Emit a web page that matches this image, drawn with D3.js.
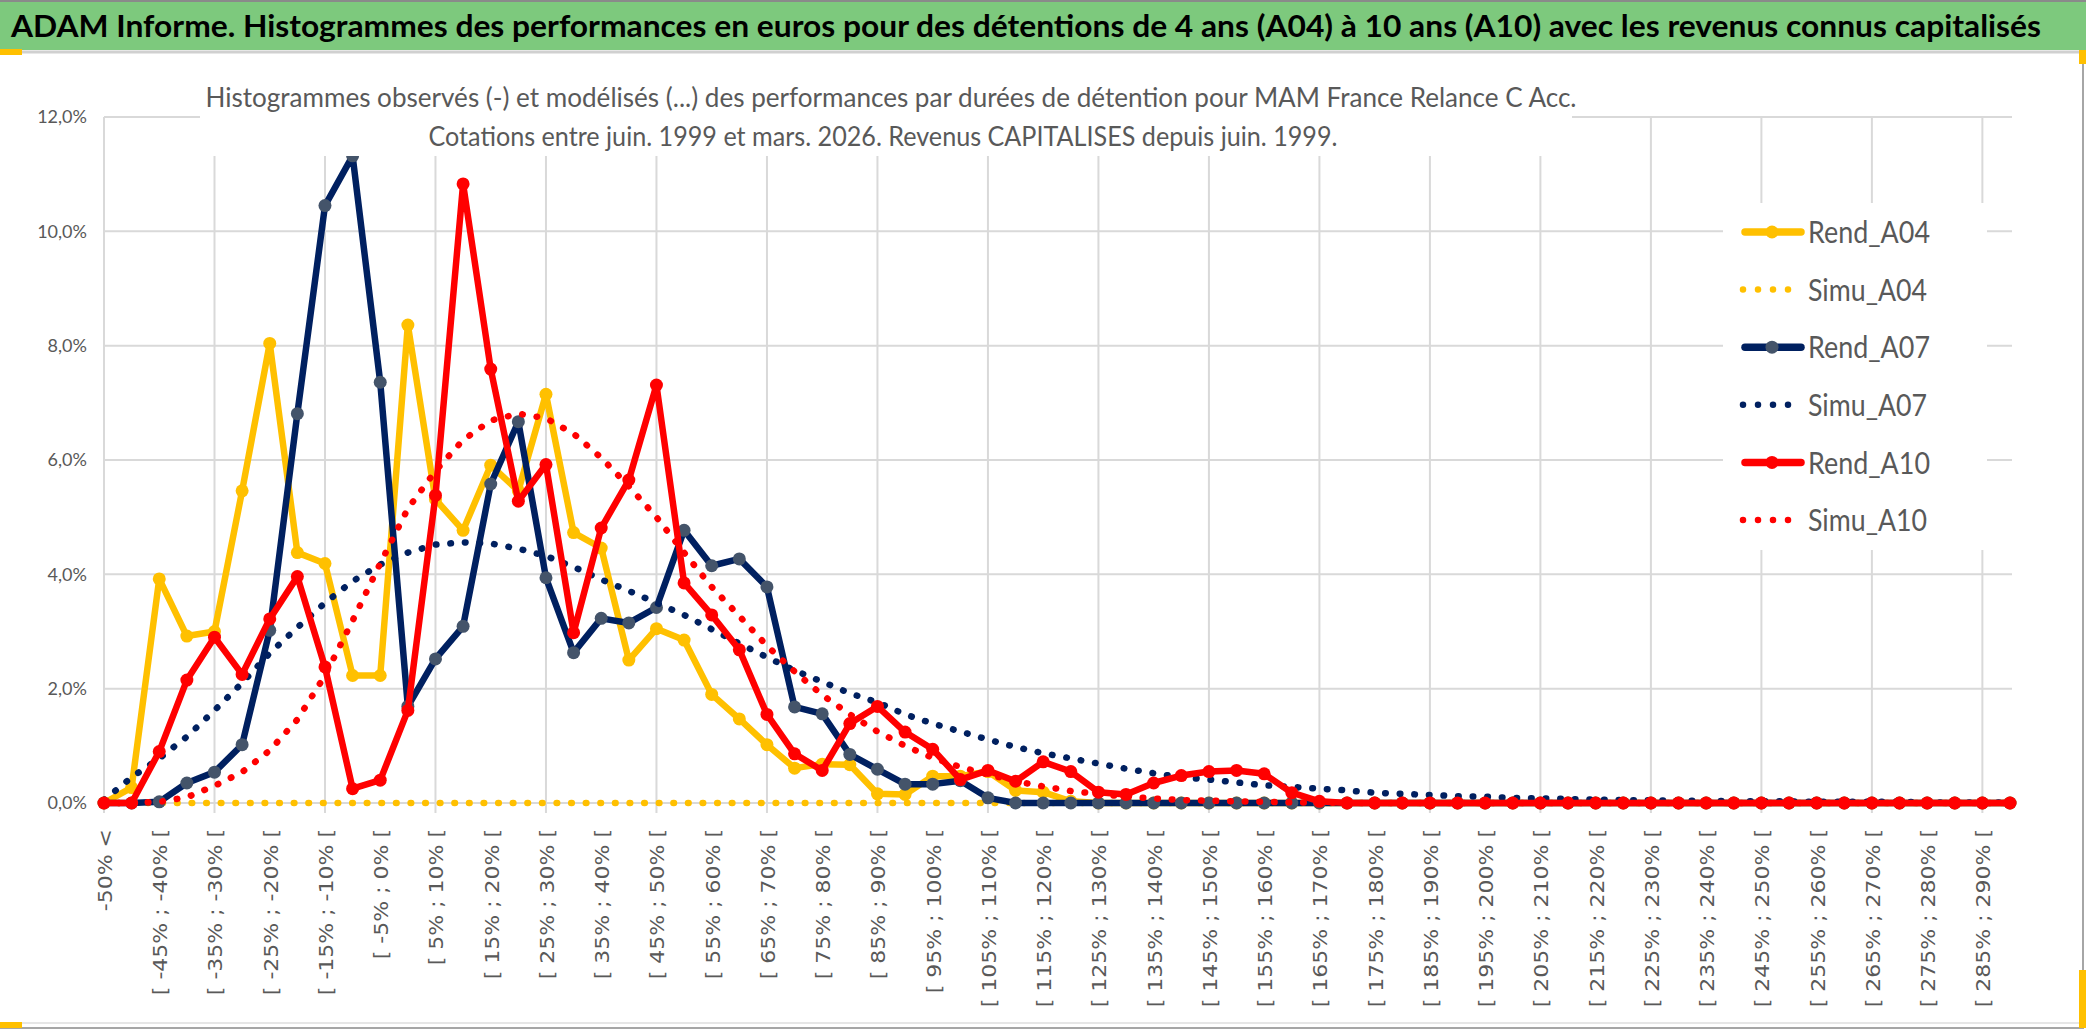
<!DOCTYPE html>
<html>
<head>
<meta charset="utf-8">
<script src="https://cdn.jsdelivr.net/npm/d3@7"></script>
<style>
  html, body { margin: 0; padding: 0; background: #fff; }
  svg { display: block; }
</style>
</head>
<body>
<svg width="2086" height="1031"></svg>
<script>
// categories of the histogram (5% classes)
const categories = [
  "-50% <", "[ -50% ; -45% [", "[ -45% ; -40% [", "[ -40% ; -35% [", "[ -35% ; -30% [",
  "[ -30% ; -25% [", "[ -25% ; -20% [", "[ -20% ; -15% [", "[ -15% ; -10% [", "[ -10% ; -5% [",
  "[ -5% ; 0% [", "[ 0% ; 5% [", "[ 5% ; 10% [", "[ 10% ; 15% [", "[ 15% ; 20% [",
  "[ 20% ; 25% [", "[ 25% ; 30% [", "[ 30% ; 35% [", "[ 35% ; 40% [", "[ 40% ; 45% [",
  "[ 45% ; 50% [", "[ 50% ; 55% [", "[ 55% ; 60% [", "[ 60% ; 65% [", "[ 65% ; 70% [",
  "[ 70% ; 75% [", "[ 75% ; 80% [", "[ 80% ; 85% [", "[ 85% ; 90% [", "[ 90% ; 95% [",
  "[ 95% ; 100% [", "[ 100% ; 105% [", "[ 105% ; 110% [", "[ 110% ; 115% [", "[ 115% ; 120% [",
  "[ 120% ; 125% [", "[ 125% ; 130% [", "[ 130% ; 135% [", "[ 135% ; 140% [", "[ 140% ; 145% [",
  "[ 145% ; 150% [", "[ 150% ; 155% [", "[ 155% ; 160% [", "[ 160% ; 165% [", "[ 165% ; 170% [",
  "[ 170% ; 175% [", "[ 175% ; 180% [", "[ 180% ; 185% [", "[ 185% ; 190% [", "[ 190% ; 195% [",
  "[ 195% ; 200% [", "[ 200% ; 205% [", "[ 205% ; 210% [", "[ 210% ; 215% [", "[ 215% ; 220% [",
  "[ 220% ; 225% [", "[ 225% ; 230% [", "[ 230% ; 235% [", "[ 235% ; 240% [", "[ 240% ; 245% [",
  "[ 245% ; 250% [", "[ 250% ; 255% [", "[ 255% ; 260% [", "[ 260% ; 265% [", "[ 265% ; 270% [",
  "[ 270% ; 275% [", "[ 275% ; 280% [", "[ 280% ; 285% [", "[ 285% ; 290% [", "[ 290% ; 295% ["
];

// values in %
const rend_A04 = [
  0, 0.27, 3.92, 2.92, 3.0, 5.46, 8.04, 4.38, 4.19, 2.23,
  2.23, 8.36, 5.31, 4.77, 5.91, 5.46, 7.15, 4.73, 4.46, 2.5,
  3.05, 2.85, 1.9, 1.47, 1.02, 0.61, 0.68, 0.67, 0.16, 0.15,
  0.47, 0.47, 0.55, 0.22, 0.19, 0.03, 0, 0, 0, 0,
  0, 0, 0, 0, 0, 0, 0, 0, 0, 0,
  0, 0, 0, 0, 0, 0, 0, 0, 0, 0,
  0, 0, 0, 0, 0, 0, 0, 0, 0, 0
];
const simu_A04 = [
  0, 0, 0, 0, 0, 0, 0, 0, 0, 0,
  0, 0, 0, 0, 0, 0, 0, 0, 0, 0,
  0, 0, 0, 0, 0, 0, 0, 0, 0, 0,
  0, 0, 0, 0, 0, 0, 0, 0, 0, 0,
  0, 0, 0, 0, 0, 0, 0, 0, 0, 0,
  0, 0, 0, 0, 0, 0, 0, 0, 0, 0,
  0, 0, 0, 0, 0, 0, 0, 0, 0, 0
];
const rend_A07 = [
  0, 0, 0.02, 0.35, 0.54, 1.02, 3.02, 6.81, 10.45, 11.32,
  7.36, 1.69, 2.52, 3.09, 5.58, 6.67, 3.94, 2.63, 3.23, 3.15,
  3.42, 4.77, 4.15, 4.27, 3.78, 1.68, 1.56, 0.85, 0.59, 0.33,
  0.33, 0.39, 0.09, 0, 0, 0, 0, 0, 0, 0,
  0, 0, 0, 0, 0, 0, 0, 0, 0, 0,
  0, 0, 0, 0, 0, 0, 0, 0, 0, 0,
  0, 0, 0, 0, 0, 0, 0, 0, 0, 0
];
const simu_A07 = [
  0.05, 0.45, 0.78, 1.16, 1.62, 2.1, 2.62, 3.07, 3.5, 3.88,
  4.17, 4.38, 4.52, 4.56, 4.54, 4.45, 4.32, 4.13, 3.91, 3.71,
  3.5, 3.29, 3.04, 2.79, 2.55, 2.32, 2.12, 1.92, 1.76, 1.55,
  1.39, 1.25, 1.11, 0.98, 0.87, 0.78, 0.69, 0.6, 0.52, 0.45,
  0.41, 0.36, 0.31, 0.28, 0.25, 0.22, 0.18, 0.16, 0.14, 0.12,
  0.11, 0.09, 0.08, 0.07, 0.06, 0.05, 0.05, 0.04, 0.04, 0.03,
  0.03, 0.03, 0.02, 0.02, 0.02, 0.02, 0.01, 0.01, 0.01, 0.01
];
const rend_A10 = [
  0, 0, 0.9, 2.15, 2.9, 2.25, 3.22, 3.96, 2.38, 0.25,
  0.4, 1.62, 5.38, 10.83, 7.59, 5.28, 5.92, 2.98, 4.81, 5.65,
  7.31, 3.85, 3.29, 2.68, 1.55, 0.86, 0.57, 1.39, 1.69, 1.24,
  0.94, 0.41, 0.57, 0.38, 0.72, 0.55, 0.19, 0.15, 0.35, 0.48,
  0.55, 0.57, 0.51, 0.18, 0.03, 0, 0, 0, 0, 0,
  0, 0, 0, 0, 0, 0, 0, 0, 0, 0,
  0, 0, 0, 0, 0, 0, 0, 0, 0, 0
];
const simu_A10 = [
  0, 0, 0.02, 0.1, 0.3, 0.54, 0.92, 1.46, 2.23, 3.19,
  4.19, 5.15, 5.81, 6.35, 6.69, 6.81, 6.73, 6.46, 6.04, 5.54,
  5.0, 4.38, 3.78, 3.27, 2.75, 2.3, 1.89, 1.55, 1.25, 1.0,
  0.79, 0.63, 0.5, 0.38, 0.29, 0.21, 0.16, 0.11, 0.08, 0.05,
  0.04, 0.03, 0.02, 0.01, 0.01, 0, 0, 0, 0, 0,
  0, 0, 0, 0, 0, 0, 0, 0, 0, 0,
  0, 0, 0, 0, 0, 0, 0, 0, 0, 0
];

const seriesNames = ["Rend_A04", "Simu_A04", "Rend_A07", "Simu_A07", "Rend_A10", "Simu_A10"];
const yTicks = [0, 2, 4, 6, 8, 10, 12];

const headerText = "ADAM Informe. Histogrammes des performances en euros pour des détentions de 4 ans (A04) à 10 ans (A10) avec les revenus connus capitalisés";
const titleLines = [
  "Histogrammes observés (-) et modélisés (...) des performances par durées de détention pour MAM France Relance C Acc.",
  "Cotations entre juin. 1999 et mars. 2026. Revenus CAPITALISES depuis juin. 1999."
];

const series = [
  { name: seriesNames[0], values: rend_A04, color: "#ffc000", marker: "#ffc000", dotted: false },
  { name: seriesNames[1], values: simu_A04, color: "#ffc000", dotted: true },
  { name: seriesNames[2], values: rend_A07, color: "#002060", marker: "#44546a", dotted: false },
  { name: seriesNames[3], values: simu_A07, color: "#002060", dotted: true },
  { name: seriesNames[4], values: rend_A10, color: "#ff0000", marker: "#ff0000", dotted: false },
  { name: seriesNames[5], values: simu_A10, color: "#ff0000", dotted: true }
];

const svg = d3.select("svg");
const width = +svg.attr("width");
const height = +svg.attr("height");

const plot = { left: 104, right: 2010, top: 117, bottom: 803 };
const textFont = "Lato, 'Open Sans', sans-serif";
const grey = "#595959";
const gridColor = "#d9d9d9";

const x = d3.scalePoint()
  .domain(categories)
  .range([plot.left, plot.right]);

const y = d3.scaleLinear()
  .domain([0, 12])
  .range([plot.bottom, plot.top]);

const frLocale = d3.formatLocale({ decimal: ",", thousands: " ", grouping: [3], currency: ["", " €"] });
const fmtPct = v => frLocale.format(".1f")(v) + "%";

// header band
svg.append("rect")
  .attr("x", 0).attr("y", 0)
  .attr("width", width).attr("height", 50)
  .attr("fill", "#7dc97d");
svg.append("line")
  .attr("x1", 0).attr("x2", width).attr("y1", 1).attr("y2", 1)
  .attr("stroke", "#8a8a8a").attr("stroke-width", 2);
svg.append("line")
  .attr("x1", 0).attr("x2", width).attr("y1", 52).attr("y2", 52)
  .attr("stroke", "#d0d0d0").attr("stroke-width", 3);

svg.append("text")
  .attr("x", 11).attr("y", 37)
  .attr("font-family", textFont)
  .attr("font-weight", "bold")
  .attr("font-size", 31)
  .attr("fill", "#000")
  .attr("textLength", 2030)
  .attr("lengthAdjust", "spacingAndGlyphs")
  .text(headerText);

// chart frame
svg.append("line")
  .attr("x1", 2083).attr("x2", 2083).attr("y1", 52).attr("y2", 1029)
  .attr("stroke", "#a6a6a6").attr("stroke-width", 2);
svg.append("line")
  .attr("x1", 0).attr("x2", 2084).attr("y1", 1028).attr("y2", 1028)
  .attr("stroke", "#a6a6a6").attr("stroke-width", 2);
svg.append("line")
  .attr("x1", 0).attr("x2", 2083).attr("y1", 1023).attr("y2", 1023)
  .attr("stroke", "#e6e6e6").attr("stroke-width", 2);

// selection handles (Excel)
[[0, 49, 22, 6], [2079, 50, 7, 14], [2079, 970, 7, 58], [0, 1022, 22, 6]].forEach(r => {
  svg.append("rect")
    .attr("x", r[0]).attr("y", r[1]).attr("width", r[2]).attr("height", r[3])
    .attr("fill", "#ffc000");
});

const g = svg.append("g").attr("class", "plot");

// grid
g.append("g").attr("class", "hgrid")
  .selectAll("line").data(yTicks).enter().append("line")
    .attr("x1", plot.left).attr("x2", plot.right + 2)
    .attr("y1", d => y(d)).attr("y2", d => y(d))
    .attr("stroke", gridColor).attr("stroke-width", 2);

g.append("g").attr("class", "vgrid")
  .selectAll("line").data(categories.filter((c, i) => i % 4 === 0)).enter().append("line")
    .attr("x1", d => x(d)).attr("x2", d => x(d))
    .attr("y1", plot.top).attr("y2", plot.bottom + 10)
    .attr("stroke", gridColor).attr("stroke-width", 2);

// y axis labels
g.append("g").attr("class", "y-axis")
  .selectAll("text").data(yTicks).enter().append("text")
    .attr("x", 87).attr("y", d => y(d))
    .attr("dy", "0.35em")
    .attr("text-anchor", "end")
    .attr("font-family", textFont)
    .attr("font-size", 18)
    .attr("fill", grey)
    .text(d => fmtPct(d));

// x axis labels (every other class)
g.append("g").attr("class", "x-axis")
  .selectAll("text").data(categories.filter((c, i) => i % 2 === 0)).enter().append("text")
    .attr("transform", d => `translate(${x(d) + 8}, 829) scale(0.92, 1) rotate(-90)`)
    .attr("text-anchor", "end")
    .attr("font-family", "'DejaVu Sans', Verdana, sans-serif")
    .attr("font-size", 22)
    .attr("fill", grey)
    .text(d => d);

// series
const line = d3.line()
  .x((d, i) => x(categories[i]))
  .y(d => y(d));

series.forEach(s => {
  const sg = g.append("g").attr("class", "series");
  const path = sg.append("path")
    .datum(s.values)
    .attr("d", line)
    .attr("fill", "none")
    .attr("stroke", s.color)
    .attr("stroke-linejoin", "round")
    .attr("stroke-linecap", "round");
  if (s.dotted) {
    path.attr("stroke-width", 6.5).attr("stroke-dasharray", "0.6 14");
  } else {
    path.attr("stroke-width", 6.5);
    sg.selectAll("circle").data(s.values).enter().append("circle")
      .attr("cx", (d, i) => x(categories[i]))
      .attr("cy", d => y(d))
      .attr("r", 6.5)
      .attr("fill", s.marker);
  }
});

// chart title box (overlays the plot)
svg.append("rect")
  .attr("x", 200).attr("y", 56)
  .attr("width", 1372).attr("height", 100)
  .attr("fill", "#fff");
svg.append("text")
  .attr("x", 891).attr("y", 107)
  .attr("text-anchor", "middle")
  .attr("font-family", textFont)
  .attr("font-size", 27)
  .attr("fill", grey)
  .attr("textLength", 1371)
  .attr("lengthAdjust", "spacingAndGlyphs")
  .text(titleLines[0]);
svg.append("text")
  .attr("x", 883).attr("y", 146)
  .attr("text-anchor", "middle")
  .attr("font-family", textFont)
  .attr("font-size", 27)
  .attr("fill", grey)
  .attr("textLength", 909)
  .attr("lengthAdjust", "spacingAndGlyphs")
  .text(titleLines[1]);

// legend
const legend = svg.append("g").attr("class", "legend");
legend.append("rect")
  .attr("x", 1723).attr("y", 203)
  .attr("width", 264).attr("height", 347)
  .attr("fill", "#fff");

const legendY = d3.scalePoint().domain(seriesNames).range([232, 520]);

series.forEach(s => {
  const ly = legendY(s.name);
  const item = legend.append("g");
  if (s.dotted) {
    item.append("line")
      .attr("x1", 1743).attr("x2", s.name === "Simu_A10" ? 1803 : 1789)
      .attr("y1", ly).attr("y2", ly)
      .attr("stroke", s.color)
      .attr("stroke-width", 6.5)
      .attr("stroke-linecap", "round")
      .attr("stroke-dasharray", "0 15");
  } else {
    item.append("line")
      .attr("x1", 1745).attr("x2", 1801)
      .attr("y1", ly).attr("y2", ly)
      .attr("stroke", s.color)
      .attr("stroke-width", 7.5)
      .attr("stroke-linecap", "round");
    item.append("circle")
      .attr("cx", 1772).attr("cy", ly).attr("r", 6.5)
      .attr("fill", s.marker);
  }
  item.append("text")
    .attr("x", 1808).attr("y", ly)
    .attr("dy", "0.36em")
    .attr("font-family", textFont)
    .attr("font-size", 31)
    .attr("fill", grey)
    .attr("textLength", s.name.startsWith("Rend") ? 122 : 119)
    .attr("lengthAdjust", "spacingAndGlyphs")
    .text(s.name);
});
</script>
</body>
</html>
